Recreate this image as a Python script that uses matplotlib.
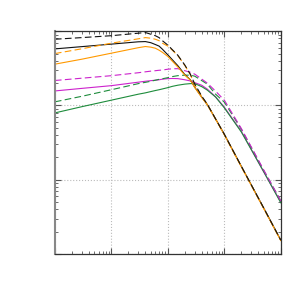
import matplotlib
matplotlib.use('Agg')
import matplotlib.pyplot as plt
from matplotlib.ticker import NullFormatter

# frequency points shared by every curve
x = [1, 3, 10, 30, 40, 50, 60, 70, 80, 100, 120, 150, 200, 250, 300, 400, 500, 700, 1000, 2000, 5000, 10000]

# values
black_solid = [0.578, 0.62, 0.67, 0.72, 0.725, 0.70, 0.662, 0.63, 0.573, 0.48, 0.413, 0.344, 0.26, 0.222, 0.176,
               0.129, 0.103, 0.066, 0.041, 0.0152, 0.00415, 0.00154]
black_dash = [0.78, 0.82, 0.87, 0.94, 0.96, 0.91, 0.87, 0.82, 0.745, 0.65, 0.564, 0.475, 0.35, 0.264, 0.194,
              0.133, 0.104, 0.066, 0.041, 0.0152, 0.00415, 0.00154]
orange_solid = [0.36, 0.42, 0.506, 0.60, 0.622, 0.61, 0.59, 0.555, 0.52, 0.457, 0.395, 0.33, 0.256, 0.22, 0.174,
                0.128, 0.102, 0.0655, 0.0405, 0.015, 0.0041, 0.00152]
orange_dash = [0.50, 0.58, 0.69, 0.79, 0.82, 0.805, 0.78, 0.745, 0.69, 0.63, 0.555, 0.47, 0.345, 0.26, 0.19,
               0.131, 0.103, 0.066, 0.0405, 0.015, 0.0041, 0.00152]
magenta_solid = [0.157, 0.170, 0.185, 0.206, 0.212, 0.216, 0.219, 0.222, 0.226, 0.23, 0.231, 0.23, 0.222, 0.214,
                 0.203, 0.187, 0.166, 0.131, 0.095, 0.045, 0.0127, 0.0050]
magenta_dash = [0.217, 0.233, 0.252, 0.276, 0.284, 0.29, 0.294, 0.298, 0.30, 0.308, 0.312, 0.313, 0.294, 0.28,
                0.264, 0.226, 0.20, 0.156, 0.118, 0.049, 0.0135, 0.0052]
green_solid = [0.0795, 0.0964, 0.118, 0.142, 0.148, 0.154, 0.159, 0.163, 0.167, 0.174, 0.181, 0.1875, 0.194,
               0.197, 0.197, 0.179, 0.161, 0.130, 0.093, 0.044, 0.0128, 0.0049]
green_dash = [0.112, 0.133, 0.163, 0.197, 0.205, 0.212, 0.219, 0.225, 0.229, 0.237, 0.245, 0.252, 0.256, 0.256,
              0.248, 0.216, 0.194, 0.142, 0.111, 0.048, 0.0133, 0.0052]

fig = plt.figure(figsize=(3, 3), dpi=100)
ax = fig.add_axes([0.183, 0.153, 0.753, 0.743])

lw = 0.8
dash = (6, 3)
green = '#1e8c3c'
magenta = '#cc22cc'
orange = '#ff9900'
black = '#111111'

# solid lines underneath, dashed on top
ax.plot(x, magenta_solid, color=magenta, lw=lw)
ax.plot(x, green_solid, color=green, lw=lw)
ax.plot(x, green_dash, color=green, lw=lw, dashes=dash)
ax.plot(x, magenta_dash, color=magenta, lw=lw, dashes=dash)
ax.plot(x, black_solid, color=black, lw=lw)
ax.plot(x, orange_solid, color=orange, lw=lw)
ax.plot(x, orange_dash, color=orange, lw=lw, dashes=dash)
ax.plot(x, black_dash, color=black, lw=lw, dashes=dash)

ax.set_xscale('log')
ax.set_yscale('log')
ax.set_xlim(1, 1e4)
ax.set_ylim(1e-3, 1)

ax.grid(True, which='major', color='#bbbbbb', linestyle=':', linewidth=0.8)
ax.tick_params(which='both', direction='in', top=True, right=True, colors='#555555')
ax.tick_params(which='major', length=4)
ax.tick_params(which='minor', length=2)
ax.xaxis.set_major_formatter(NullFormatter())
ax.xaxis.set_minor_formatter(NullFormatter())
ax.yaxis.set_major_formatter(NullFormatter())
ax.yaxis.set_minor_formatter(NullFormatter())
for s in ax.spines.values():
    s.set_color('#333333')
    s.set_linewidth(0.9)
ax.spines['left'].set_color('#888888')
ax.spines['left'].set_linewidth(1.5)

fig.savefig('out.png', dpi=100)
